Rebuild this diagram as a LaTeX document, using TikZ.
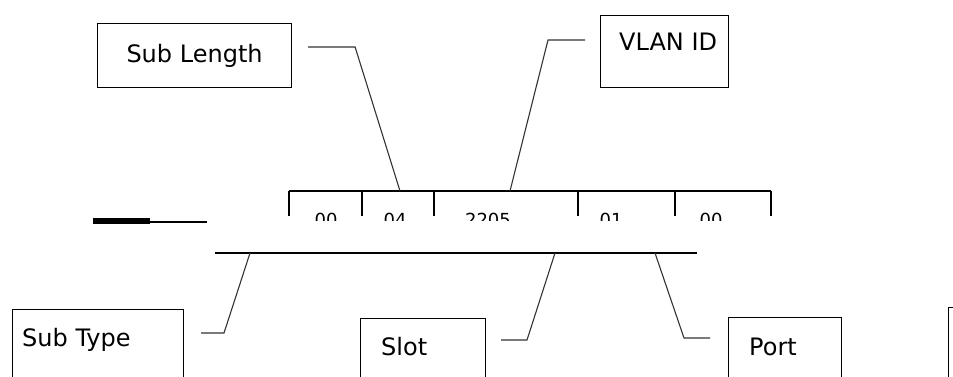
\documentclass[tikz,border=0pt]{standalone}
\usepackage{fontspec}
\setmainfont{DejaVu Sans}
\usetikzlibrary{calc,positioning}

\begin{document}
\begin{tikzpicture}[x=1pt,y=-1pt,
  box/.style={draw,line width=1.1pt,inner sep=0pt},
  lbl/.style={font=\fontsize{24}{26}\selectfont,inner sep=0pt},
  hex/.style={font=\fontsize{18}{20}\selectfont,inner sep=0pt},
  lead/.style={line width=1.1pt,black!80},
  rule/.style={line width=1.4pt}]
\clip (0,0) rectangle (953,376);

% field row
\coordinate (row-tl) at (289,191);
\coordinate (row-tr) at (771,191);
\coordinate (row-bl) at (215,253);
\coordinate (row-br) at (697,253);
\draw[rule] (row-tl) -- (row-tr);
\foreach \x in {289,362,434,578,675,771}
  \draw[rule] (\x,191) -- (\x,216);
\draw[rule] (row-bl) -- (row-br);
\draw[line width=6pt] (93,221) -- (150,221);
\draw[line width=2pt] (150,222) -- (207,222);
\begin{scope}
  \clip (280,206) rectangle (780,220);
  \node[hex] (f-len)  at (326,220) {00};
  \node[hex] (f-sub)  at (395,220) {04};
  \node[hex] (f-vid)  at (488,220) {2205};
  \node[hex] (f-slot) at (611,220) {01};
  \node[hex] (f-port) at (711,220) {00};
\end{scope}

% boxes
\node[box,lbl,anchor=north west,minimum width=194,minimum height=64] (sublen) at (97,23) {Sub Length};
\node[box,anchor=north west,minimum width=128,minimum height=72] (vlan) at (600,15) {};
\node[lbl,anchor=west] (vlan-t) at ($(vlan.north west)+(19,27)$) {VLAN ID};
\node[box,anchor=north west,minimum width=171,minimum height=90] (subtype) at (12,309) {};
\node[lbl,anchor=west] (subtype-t) at ($(subtype.north west)+(10,31)$) {Sub Type};
\node[box,anchor=north west,minimum width=125,minimum height=80] (slot) at (360,318) {};
\node[lbl,anchor=west] (slot-t) at ($(slot.north west)+(21,29)$) {Slot};
\node[box,anchor=north west,minimum width=113,minimum height=80] (port) at (728,317) {};
\node[lbl,anchor=west] (port-t) at ($(port.north west)+(21,30)$) {Port};
\node[box,anchor=north west,minimum width=60,minimum height=90] (more) at (948,307) {};

% leaders
\coordinate (hk-len)  at (400,191);
\coordinate (hk-vid)  at (510,191);
\coordinate (hk-type) at (250,253);
\coordinate (hk-slot) at (555,253);
\coordinate (hk-port) at (655,253);
\coordinate (end-len)  at ($(sublen.north east)+(16,24)$);
\coordinate (end-vid)  at ($(vlan.north west)+(-15,25)$);
\coordinate (end-type) at ($(subtype.north east)+(17,24)$);
\coordinate (end-slot) at ($(slot.north east)+(15,22)$);
\coordinate (end-port) at ($(port.north west)+(-18,21)$);
\draw[lead] (end-len) -- ++(47,0) -- (hk-len);
\draw[lead] (end-vid) -- ++(-37,0) -- (hk-vid);
\draw[lead] (hk-type) -- ++(-26,80) -- (end-type);
\draw[lead] (hk-slot) -- ++(-28,87) -- (end-slot);
\draw[lead] (hk-port) -- ++(29,85) -- (end-port);
\end{tikzpicture}
\end{document}
